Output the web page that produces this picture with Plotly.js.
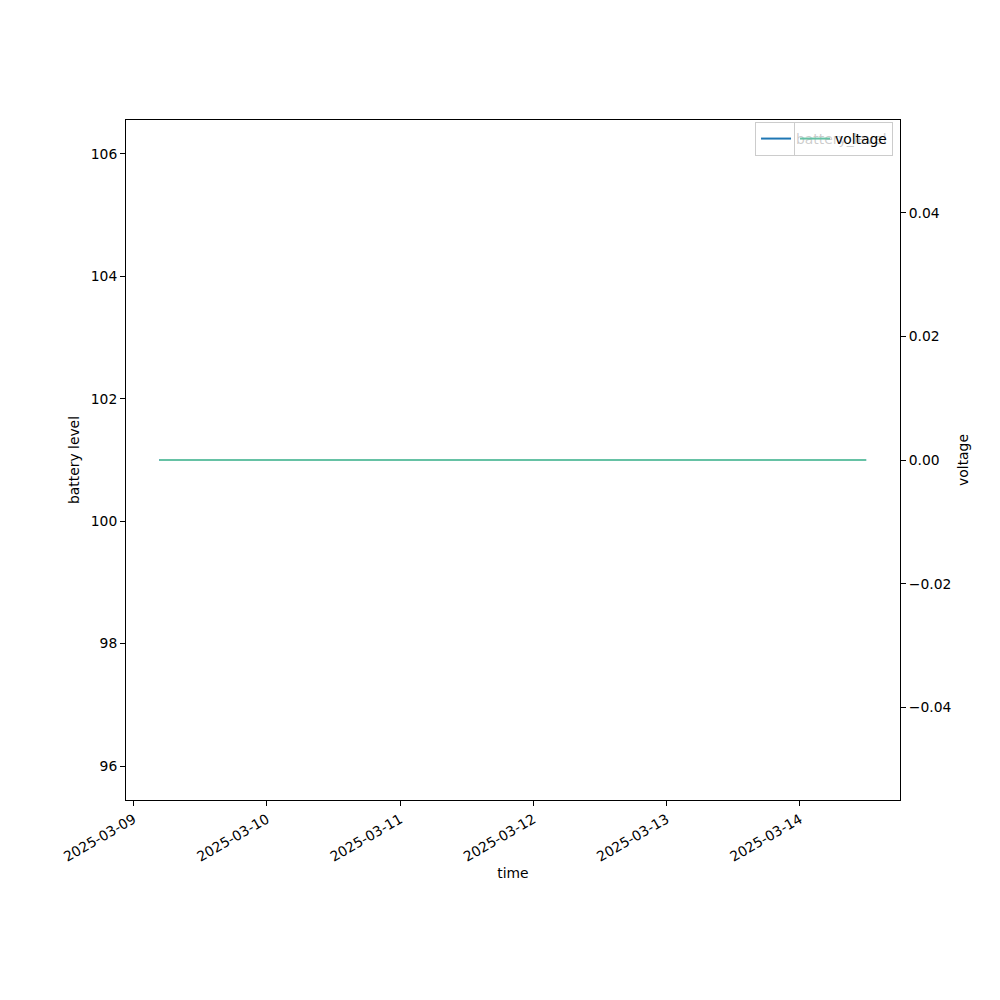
<!DOCTYPE html>
<html>
<head>
<meta charset="utf-8">
<script src="https://cdn.plot.ly/plotly-3.0.1.min.js"></script>
<style>html,body{margin:0;padding:0;background:#fff;}#chart{width:1000px;height:1000px;}</style>
</head>
<body>
<div id="chart"></div>
<script>
const times = ["2025-03-09 04:38", "2025-03-10 04:38", "2025-03-11 04:38", "2025-03-12 04:38", "2025-03-13 04:38", "2025-03-14 04:38", "2025-03-14 11:56"];
const batteryLevel = [101, 101, 101, 101, 101, 101, 101];
const voltage = [0, 0, 0, 0, 0, 0, 0];
const xTickVals = ["2025-03-09", "2025-03-10", "2025-03-11", "2025-03-12", "2025-03-13", "2025-03-14"];
const yLeftTicks = [96, 98, 100, 102, 104, 106];
const yRightTicks = [-0.04, -0.02, 0, 0.02, 0.04];

const FONT = {family: "DejaVu Sans", size: 13.89, color: "#000"};

const traces = [
  {x: times, y: batteryLevel, type: "scatter", mode: "lines", name: "battery_level",
   line: {color: "#1f77b4", width: 2}, xaxis: "x", yaxis: "y", legend: "legend"},
  {x: times, y: voltage, type: "scatter", mode: "lines", name: "voltage",
   line: {color: "#66c2a5", width: 2}, xaxis: "x", yaxis: "y2", legend: "legend2"}
];

const axisCommon = {showline: true, linecolor: "#000", linewidth: 1, ticks: "outside",
  ticklen: 5, tickwidth: 1, tickcolor: "#000", showgrid: false, zeroline: false,
  tickfont: FONT};

const fmt = v => (v < 0 ? "\u2212" : "") + Math.abs(v).toFixed(2);

const layout = {
  width: 1000, height: 1000,
  paper_bgcolor: "#fff", plot_bgcolor: "#fff",
  font: FONT,
  margin: {l: 126, r: 100, t: 120, b: 200},
  xaxis: Object.assign({}, axisCommon, {
    type: "date", range: ["2025-03-08 22:38", "2025-03-14 18:02"],
    tickvals: xTickVals, ticktext: xTickVals, tickangle: -30, mirror: true,
    title: {text: "time", font: FONT, standoff: 4}
  }),
  yaxis: Object.assign({}, axisCommon, {
    range: [95.445, 106.555], tickvals: yLeftTicks, ticktext: yLeftTicks.map(String),
    mirror: false,
    title: {text: "battery level", font: FONT, standoff: 7}
  }),
  yaxis2: Object.assign({}, axisCommon, {
    overlaying: "y", side: "right", anchor: "x",
    range: [-0.055, 0.055], tickvals: yRightTicks, ticktext: yRightTicks.map(fmt),
    title: {text: "voltage", font: FONT, standoff: 7}
  }),
  showlegend: true,
  legend: {x: 0.991, y: 0.997, xanchor: "right", yanchor: "top",
    bgcolor: "rgba(255,255,255,0.8)", bordercolor: "#cccccc", borderwidth: 1, font: FONT},
  legend2: {x: 0.991, y: 0.997, xanchor: "right", yanchor: "top",
    bgcolor: "rgba(255,255,255,0.8)", bordercolor: "#cccccc", borderwidth: 1, font: FONT}
};

Plotly.newPlot("chart", traces, layout, {displayModeBar: false, staticPlot: true});
</script>
</body>
</html>
